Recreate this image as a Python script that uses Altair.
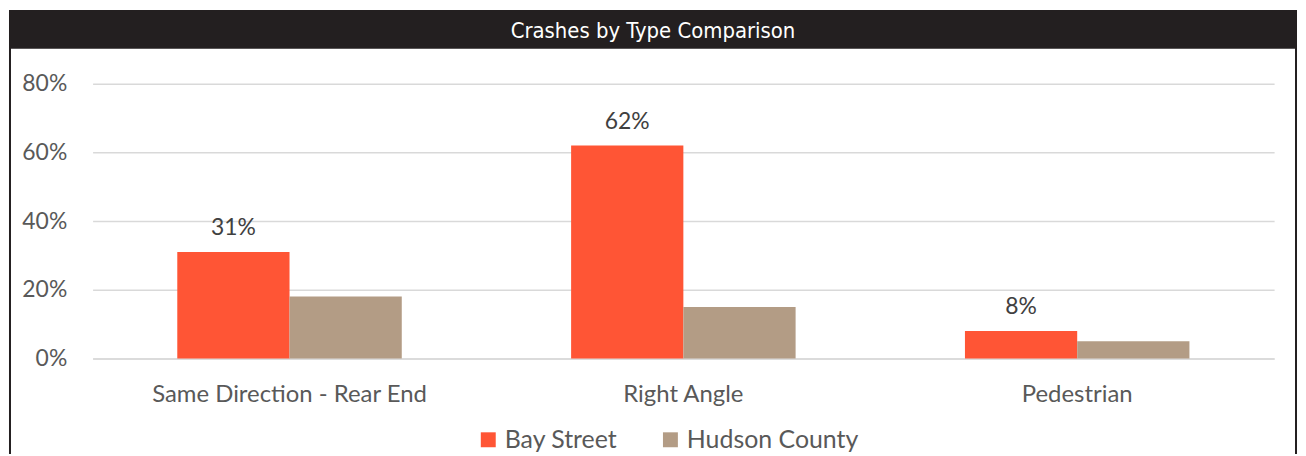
import altair as alt
import pandas as pd

categories = ["Same Direction - Rear End", "Right Angle", "Pedestrian"]
series = ["Bay Street", "Hudson County"]
bay_street = [0.31, 0.62, 0.08]
hudson_county = [0.18, 0.15, 0.05]
colors = ["#FF5535", "#B39C85"]
title_text = "Crashes by Type Comparison"

rows = []
for c, v in zip(categories, bay_street):
    rows.append({"cat": c, "series": "Bay Street", "value": v, "label": f"{round(v*100)}%"})
for c, v in zip(categories, hudson_county):
    rows.append({"cat": c, "series": "Hudson County", "value": v, "label": ""})
df = pd.DataFrame(rows)

W, H = 1187, 276
FONT = "Lato"
TITLE_FONT = "Liberation Sans Narrow, Arial Narrow, DejaVu Sans Condensed, Roboto Condensed, sans-serif"

x_enc = alt.X("cat:N", sort=categories, title=None,
              scale=alt.Scale(paddingInner=0.43, paddingOuter=0.215),
              axis=alt.Axis(labelAngle=0, labelFontSize=24, labelColor="#595959",
                            labelFont=FONT, labelPadding=24, ticks=False, labelLimit=0,
                            domainColor="#D9D9D9", domainWidth=1.5, grid=False))
y_enc = alt.Y("value:Q", title=None,
              scale=alt.Scale(domain=[0, 0.8], nice=False),
              axis=alt.Axis(format=".0%", values=[0, 0.2, 0.4, 0.6, 0.8],
                            labelFontSize=23, labelColor="#595959", labelFont=FONT,
                            labelPadding=26, ticks=False, domain=False,
                            gridColor="#D9D9D9", gridWidth=1.5))

bars = alt.Chart(df).mark_bar().encode(
    x=x_enc,
    y=y_enc,
    xOffset=alt.XOffset("series:N", sort=series, scale=alt.Scale(paddingInner=0, paddingOuter=0)),
    color=alt.Color("series:N", sort=series,
                    scale=alt.Scale(domain=series, range=colors),
                    legend=alt.Legend(title=None, orient="none", direction="horizontal",
                                      legendX=385, legendY=345, symbolType="square",
                                      symbolSize=225, symbolStrokeWidth=0,
                                      labelFontSize=25, labelColor="#595959", labelFont=FONT,
                                      columnPadding=40, labelOffset=4, labelLimit=0)),
)

labels = alt.Chart(df).mark_text(baseline="bottom", dy=-12, fontSize=23,
                                 color="#404040", font=FONT).encode(
    x=alt.X("cat:N", sort=categories),
    y="value:Q",
    xOffset=alt.XOffset("series:N", sort=series),
    text="label:N",
)

box_df = pd.DataFrame({"t": [title_text]})
frame = alt.Chart(box_df).mark_rect(fill=None, stroke="#231F20", strokeWidth=2, clip=False).encode(
    x=alt.value(-83), x2=alt.value(1209), y=alt.value(-73), y2=alt.value(400))
title_bar = alt.Chart(box_df).mark_rect(fill="#231F20", clip=False).encode(
    x=alt.value(-83), x2=alt.value(1209), y=alt.value(-73), y2=alt.value(-35))
title = alt.Chart(box_df).mark_text(color="white", fontSize=22,
                                    font=TITLE_FONT, align="center",
                                    baseline="middle").encode(
    x=alt.value(563), y=alt.value(-53), text="t:N")

chart = alt.layer(bars, labels, frame, title_bar, title).properties(
    width=W, height=H,
    autosize=alt.AutoSizeParams(type="none"),
    padding={"left": 85, "top": 75, "right": 24, "bottom": 95},
).configure(background="white").configure_view(stroke=None, strokeWidth=0)

chart.save("out.html", embed_options={"renderer": "svg", "actions": False})
